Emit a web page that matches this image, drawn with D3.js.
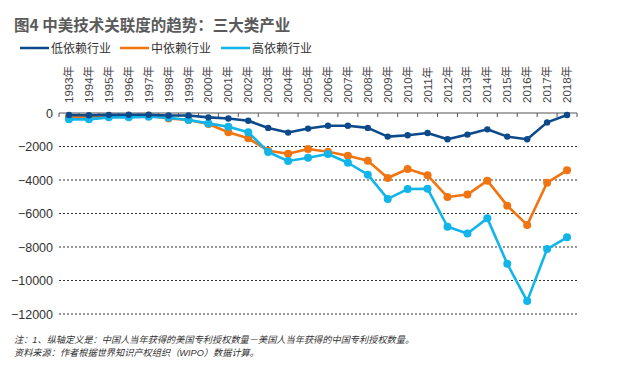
<!DOCTYPE html>
<html><head><meta charset="utf-8">
<script src="https://cdn.jsdelivr.net/npm/d3@7"></script>
<style>
body{margin:0;background:#fff;}
text{font-family:"Liberation Sans","Noto Sans CJK SC",sans-serif;}
</style></head>
<body><svg id="c" width="618" height="375"></svg>
<script>
const years = ["1993","1994","1995","1996","1997","1998","1999","2000","2001","2002","2003","2004","2005","2006","2007","2008","2009","2010","2011","2012","2013","2014","2015","2016","2017","2018"];
const lowDep = [-120,-130,-110,-100,-100,-150,-150,-260,-330,-460,-890,-1170,-930,-760,-760,-890,-1410,-1330,-1190,-1570,-1290,-975,-1410,-1570,-560,-120];
const midDep = [-220,-220,-200,-200,-160,-330,-420,-660,-1150,-1510,-2250,-2430,-2150,-2310,-2550,-2850,-3880,-3340,-3720,-5010,-4870,-4040,-5530,-6680,-4160,-3420];
const highDep = [-380,-380,-260,-260,-220,-280,-420,-620,-820,-1150,-2330,-2870,-2670,-2450,-2970,-3680,-5130,-4540,-4520,-6790,-7190,-6290,-9000,-11230,-8120,-7420];
const yTicks = [0,-2000,-4000,-6000,-8000,-10000,-12000];
const seriesNames = ["低依赖行业","中依赖行业","高依赖行业"];
const colors = ["#0d4a8c","#f07511","#12b5ea"];

const svg = d3.select("#c");
const x = d3.scaleBand().domain(years).range([59,577]);
const y = d3.scaleLinear().domain([-12000,0]).range([314,113]);

svg.append("text").attr("x",14).attr("y",31).attr("font-size",15.5).attr("font-weight","bold").attr("fill","#5a5a5a")
  .style("font-family","'Noto Sans CJK SC',sans-serif").text("图4  中美技术关联度的趋势：三大类产业");

const legX = [20,120,221];
seriesNames.forEach((n,i)=>{
  svg.append("line").attr("x1",legX[i]).attr("x2",legX[i]+29).attr("y1",48).attr("y2",48).attr("stroke",colors[i]).attr("stroke-width",2.5);
  svg.append("text").attr("x",legX[i]+31).attr("y",52.5).attr("font-size",12).attr("fill","#333").text(n);
});

yTicks.filter(d=>d<0).forEach(d=>{
  svg.append("line").attr("x1",59).attr("x2",577).attr("y1",y(d)).attr("y2",y(d)).attr("stroke","#333").attr("stroke-width",1).attr("stroke-dasharray","2,2");
});
yTicks.forEach(d=>{
  svg.append("text").attr("x",53).attr("y",y(d)+4.5).attr("text-anchor","end").attr("font-size",12.5).attr("fill","#333").text(d===0?"0":"−"+Math.abs(d));
});

svg.append("line").attr("x1",59).attr("x2",577).attr("y1",113).attr("y2",113).attr("stroke","#555").attr("stroke-width",1.2);
years.forEach(yr=>{
  svg.append("line").attr("x1",x(yr)).attr("x2",x(yr)).attr("y1",113).attr("y2",117).attr("stroke","#555");
});
svg.append("line").attr("x1",577).attr("x2",577).attr("y1",113).attr("y2",117).attr("stroke","#555");
years.forEach(yr=>{
  const cx = x(yr)+x.bandwidth()/2+4;
  svg.append("text").attr("transform",`translate(${cx},103) rotate(-90)`).attr("font-size",11.5).attr("fill","#444").text(yr+"年");
});

const cxf = (d,i)=>x(years[i])+x.bandwidth()/2;
const data = [lowDep,midDep,highDep];
const order = [1,2,0];
const radii = [3.2,4,4];
order.forEach(k=>{
  const line = d3.line().x((d,i)=>cxf(d,i)).y(d=>y(d));
  svg.append("path").datum(data[k]).attr("d",line).attr("fill","none").attr("stroke",colors[k]).attr("stroke-width",2.6).attr("stroke-linejoin","round");
  svg.selectAll(null).data(data[k]).enter().append("circle").attr("cx",cxf).attr("cy",d=>y(d)).attr("r",radii[k]).attr("fill",colors[k]);
});

svg.append("text").attr("x",14).attr("y",343).attr("font-size",9.2).attr("font-style","italic").attr("fill","#333").text("注：1、纵轴定义是：中国人当年获得的美国专利授权数量－美国人当年获得的中国专利授权数量。");
svg.append("text").attr("x",14).attr("y",356).attr("font-size",9.2).attr("font-style","italic").attr("fill","#333").text("资料来源：作者根据世界知识产权组织（WIPO）数据计算。");
</script></body></html>
